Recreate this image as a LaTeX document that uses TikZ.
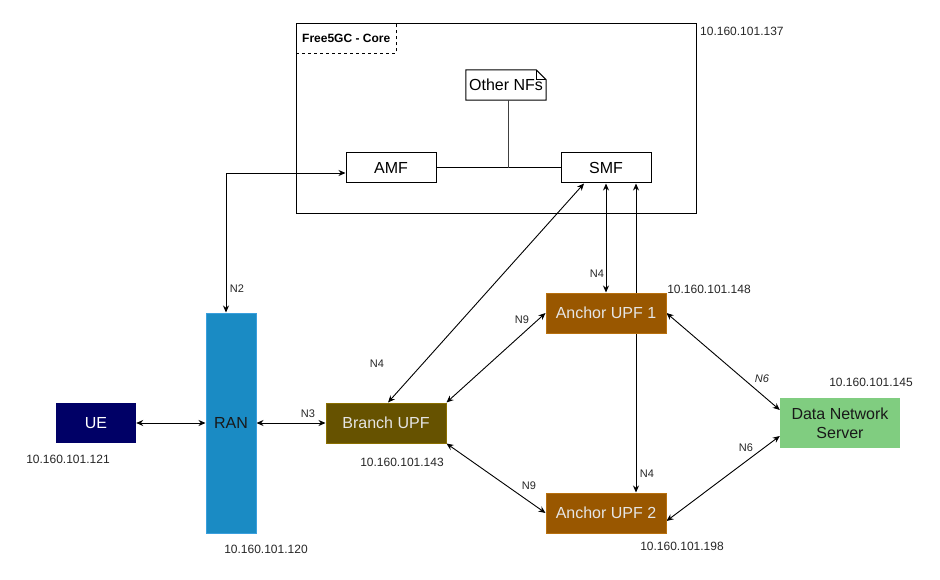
\documentclass[tikz,border=0pt]{standalone}
\usepackage{fontspec}
\setmainfont{Liberation Sans}
\usetikzlibrary{arrows.meta,backgrounds}
\definecolor{uecol}{HTML}{000066}
\definecolor{rancol}{HTML}{1A8BC4}
\definecolor{randraw}{HTML}{3A9FDD}
\definecolor{branchcol}{HTML}{665200}
\definecolor{branchdraw}{HTML}{8A6F00}
\definecolor{anchorcol}{HTML}{995700}
\definecolor{anchordraw}{HTML}{B8700E}
\definecolor{dncol}{HTML}{80CD80}
\begin{document}
\begin{tikzpicture}[x=1pt,y=-1pt,
  box/.style={draw, minimum width=90pt, minimum height=30pt, inner sep=0pt, line width=1pt, font=\fontsize{16}{19}\selectfont},
  upf/.style={minimum width=120pt, minimum height=40pt, inner sep=0pt, line width=1pt, font=\fontsize{16}{19}\selectfont, text=black!10},
  ip/.style={font=\fontsize{12}{14}\selectfont, inner sep=0pt, text=black!85},
  lbl/.style={font=\fontsize{11}{13}\selectfont, inner sep=0pt, text=black!85},
  link/.style={line width=0.9pt, {Stealth[length=7pt,width=6pt]}-{Stealth[length=7pt,width=6pt]}},
  plain/.style={line width=1pt}
]
\useasboundingbox (0,0) rectangle (940,580);

% core frame
\node[draw, dashed, line width=0.8pt, anchor=north west, minimum width=100pt, minimum height=30pt, inner sep=0pt] (corelbl) at (296,23) {};
\node[draw, line width=1pt, anchor=north west, minimum width=400pt, minimum height=190pt, inner sep=0pt] (core) at (296,23) {};
\node[anchor=west, inner sep=0pt, font=\bfseries\fontsize{12}{14}\selectfont] (coretxt) at (302,38) {Free5GC - Core};
\node[ip, anchor=west] (ipcore) at (700,31) {10.160.101.137};

% core NFs
\node[box] (amf) at (391,168) {AMF};
\node[box] (smf) at (606,168) {SMF};
\node[minimum width=80pt, minimum height=30pt, inner sep=0pt, font=\fontsize{16}{19}\selectfont] (nfs) at (506,85) {Other NFs};
\draw[line width=1pt] (nfs.south west) -- (nfs.north west) -- ([xshift=-10pt]nfs.north east) -- ([yshift=-10pt]nfs.north east) -- (nfs.south east) -- cycle;
\draw[line width=0.8pt] ([xshift=-10pt]nfs.north east) -- ([xshift=-10pt,yshift=-10pt]nfs.north east) -- ([yshift=-10pt]nfs.north east);
\coordinate (jn) at (508,168);
\draw[plain] (amf.east) -- (smf.west);
\draw[plain, black!75] ([xshift=2pt]nfs.south) -- (jn);

% access
\node[fill=uecol, minimum width=80pt, minimum height=40pt, inner sep=0pt, text=white, font=\fontsize{16}{19}\selectfont] (ue) at (96,423) {UE};
\node[ip] (ipue) at (68,459) {10.160.101.121};
\node[fill=rancol, draw=randraw, line width=1pt, minimum width=50pt, minimum height=220pt, inner sep=0pt, text=black!90, font=\fontsize{16}{19}\selectfont] (ran) at (231,423) {RAN};
\node[ip] (ipran) at (266,549) {10.160.101.120};

% UPFs
\node[upf, fill=branchcol, draw=branchdraw] (branch) at (386,423) {Branch UPF};
\node[ip] (ipbranch) at (402,462) {10.160.101.143};
\node[upf, fill=anchorcol, draw=anchordraw] (aupf1) at (606,313) {Anchor UPF 1};
\node[ip] (ipa1) at (709,289) {10.160.101.148};
\node[upf, fill=anchorcol, draw=anchordraw] (aupf2) at (606,513) {Anchor UPF 2};
\node[ip] (ipa2) at (682,546) {10.160.101.198};
\node[fill=dncol, minimum width=120pt, minimum height=50pt, inner sep=0pt, text=black!90, align=center, font=\fontsize{16}{19}\selectfont] (dn) at (840,423) {Data Network\\Server};
\node[ip] (ipdn) at (871,382) {10.160.101.145};

% edge labels
\node[lbl] (ln2) at (237,289) {N2};
\node[lbl] (ln3) at (308,414) {N3};
\node[lbl] (ln4a) at (377,364) {N4};
\node[lbl] (ln4b) at (597,274) {N4};
\node[lbl] (ln4c) at (647,474) {N4};
\node[lbl] (ln9a) at (522,320) {N9};
\node[lbl] (ln9b) at (529,486) {N9};
\node[lbl, font=\itshape\fontsize{11}{13}\selectfont] (ln6a) at (762,379) {N6};
\node[lbl] (ln6b) at (746,448) {N6};

\begin{scope}[on background layer]
\draw[link] ([xshift=-5pt]ran.north) |- ([yshift=-5pt]amf.west);
\draw[link] (ue.east) -- (ran.west |- ue.east);
\draw[link] (ran.east |- branch.west) -- (branch.west);
\draw[link] ([xshift=2pt]branch.north) -- ([xshift=-22pt]smf.south);
\draw[link] (smf.south) -- (aupf1.north);
\draw[link] ([xshift=30pt]smf.south) -- ([xshift=30pt]aupf2.north);
\draw[link] (branch.north east) -- (aupf1.west);
\draw[link] (branch.south east) -- (aupf2.west);
\draw[link] (aupf1.east) -- ([yshift=13pt]dn.west);
\draw[link] ([yshift=-8pt]aupf2.east) -- ([yshift=-13pt]dn.west);
\end{scope}
\end{tikzpicture}
\end{document}
